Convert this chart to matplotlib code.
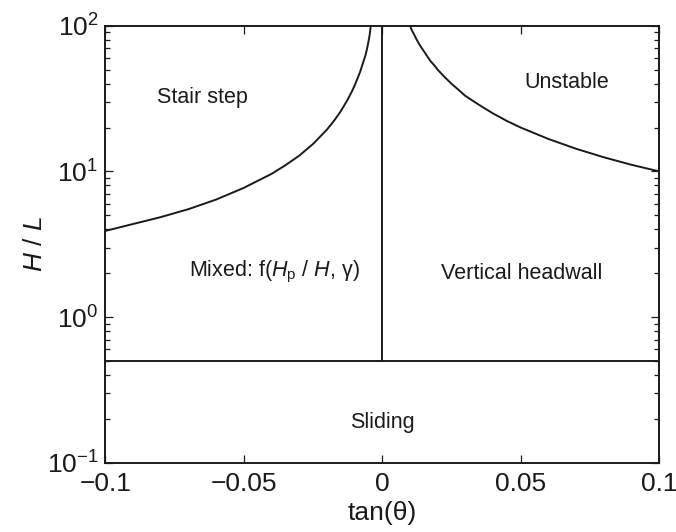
import matplotlib
matplotlib.use("Agg")
import matplotlib.pyplot as plt
from matplotlib.ticker import FixedLocator, LogLocator, NullFormatter

plt.rcParams["font.family"] = ["Liberation Sans", "DejaVu Sans"]
plt.rcParams["mathtext.fontset"] = "custom"
plt.rcParams["mathtext.rm"] = "Liberation Sans"
plt.rcParams["mathtext.it"] = "Liberation Sans:italic"
plt.rcParams["mathtext.default"] = "regular"

# regime boundaries
left_x = [-0.1, -0.09, -0.08, -0.07, -0.06, -0.05, -0.045, -0.04, -0.035,
          -0.03, -0.025, -0.02, -0.0175, -0.015, -0.0125, -0.011, -0.01,
          -0.009, -0.008, -0.007, -0.006, -0.0055, -0.005, -0.0045, -0.0041]
left_y = [3.9, 4.35, 4.85, 5.5, 6.4, 7.7, 8.6, 9.6, 11.0,
          12.8, 15.4, 19.3, 22.1, 25.8, 31, 35.2, 38.6,
          43, 48, 55, 63, 69, 77, 87, 100]

right_x = [0.0101, 0.0105, 0.011, 0.0118, 0.0125, 0.0135, 0.015, 0.0162,
           0.0175, 0.019, 0.02, 0.0225, 0.025, 0.0275, 0.03, 0.035, 0.04,
           0.045, 0.05, 0.06, 0.07, 0.08, 0.09, 0.1]
right_y = [100, 95, 91, 85, 80, 74, 67, 62,
           57, 53, 50, 44.5, 40, 36.4, 33, 28.6, 25,
           22.2, 20, 16.7, 14.3, 12.5, 11.1, 10]

sliding_level = 0.5
x_ticks = [-0.1, -0.05, 0, 0.05, 0.1]
x_tick_labels = ["\u22120.1", "\u22120.05", "0", "0.05", "0.1"]

region_labels = [
    ("Stair step", -0.065, 32),
    ("Unstable", 0.0665, 41),
    ("Mixed: f($\\mathit{H}_\\mathrm{p}$ / $\\mathit{H}$, \u03b3)", -0.039, 2.05),
    ("Vertical headwall", 0.0505, 2.0),
    ("Sliding", 0.0, 0.19),
]

fig = plt.figure(figsize=(6.76, 5.32), dpi=100)
ax = fig.add_axes([0.1558, 0.1303, 0.8191, 0.8214])

lc = "#1a1a1a"
ax.plot(left_x, left_y, color=lc, lw=1.4)
ax.plot(right_x, right_y, color=lc, lw=1.4)
ax.axhline(sliding_level, color=lc, lw=1.4)
ax.plot([0, 0], [sliding_level, 100], color=lc, lw=1.4)

ax.set_yscale("log")
ax.set_xlim(-0.1, 0.1)
ax.set_ylim(0.1, 100)

ax.xaxis.set_major_locator(FixedLocator(x_ticks))
ax.set_xticklabels(x_tick_labels)
ax.yaxis.set_major_locator(LogLocator(base=10, numticks=10))
ax.yaxis.set_minor_locator(LogLocator(base=10, subs=range(2, 10), numticks=10))
ax.yaxis.set_minor_formatter(NullFormatter())

ax.tick_params(which="both", direction="in", top=True, right=True,
               labelsize=19, colors=lc, width=0.9)
ax.tick_params(axis="x", which="major", length=6, pad=7)
ax.tick_params(axis="y", which="major", length=6, pad=5)
ax.tick_params(which="minor", length=3.5)
for s in ax.spines.values():
    s.set_linewidth(1.4)
    s.set_color(lc)

for txt, x, y in region_labels:
    ax.text(x, y, txt, ha="center", va="center", fontsize=15.5, color=lc)

ax.set_xlabel("tan(\u03b8)", fontsize=19, color=lc, labelpad=3)
ax.set_ylabel("$\\mathit{H}$ / $\\mathit{L}$", fontsize=19, color=lc, labelpad=0)

fig.savefig("out.png", dpi=100)
